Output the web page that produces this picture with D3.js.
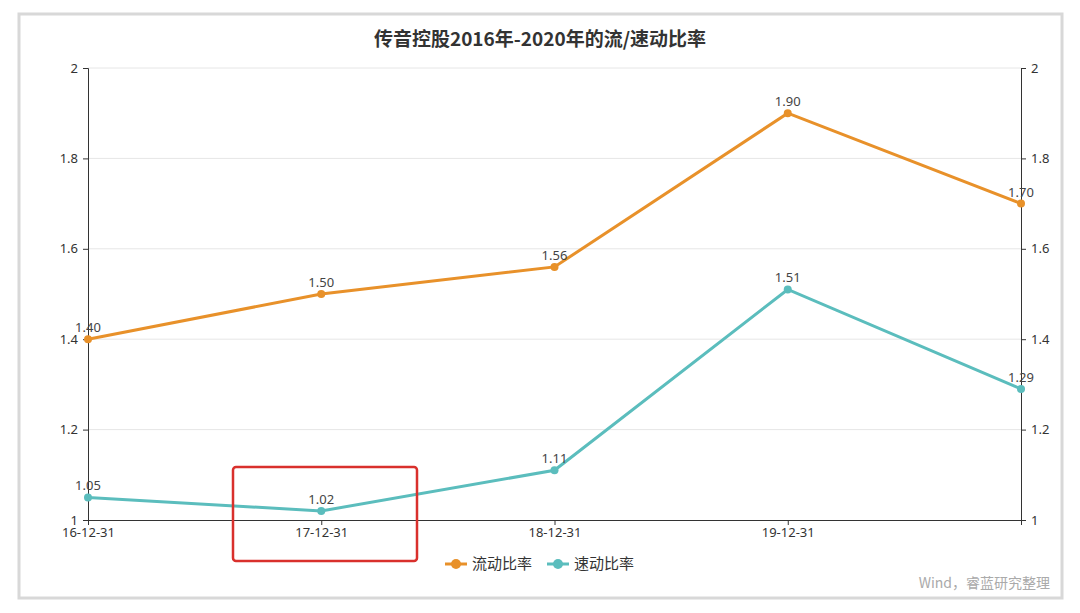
<!DOCTYPE html>
<html><head><meta charset="utf-8">
<script src="https://cdn.jsdelivr.net/npm/d3@7/dist/d3.min.js"></script>
<style>body{margin:0;background:#fff;font-family:"Noto Sans CJK SC","Noto Sans",sans-serif}</style>
</head><body><svg id="c" width="1080" height="613"></svg>
<script>
const categories=["16-12-31","17-12-31","18-12-31","19-12-31","20-12-31"];
const tickLabels=["16-12-31","17-12-31","18-12-31","19-12-31",""];
const current=[1.40,1.50,1.56,1.90,1.70];
const quick=[1.05,1.02,1.11,1.51,1.29];
const yTicks=[1,1.2,1.4,1.6,1.8,2];
const seriesNames=["流动比率","速动比率"];
const colors=["#e8912a","#5bbdbd"];

const svg=d3.select("#c");
svg.append("rect").attr("x",19).attr("y",14).attr("width",1043).attr("height",584).attr("fill","#fff").attr("stroke","#d8d8d8").attr("stroke-width",3);
const L=88,R=1021,T=68,B=520;
const x=d3.scalePoint().domain(categories).range([L,R]);
const y=d3.scaleLinear().domain([1,2]).range([B,T]);
const fmt=d=>d===1||d===2?String(d):d3.format(".1f")(d);
// grid
svg.append("g").selectAll("line").data(yTicks.slice(1)).join("line")
 .attr("x1",L).attr("x2",R).attr("y1",d=>y(d)).attr("y2",d=>y(d)).attr("stroke","#e6e6e6");
const ax=svg.append("g").attr("transform",`translate(0,${B})`).call(d3.axisBottom(x).tickFormat((d,i)=>tickLabels[i]).tickSize(5));
const ayl=svg.append("g").attr("transform",`translate(${L},0)`).call(d3.axisLeft(y).tickValues(yTicks).tickFormat(fmt).tickSize(5));
const ayr=svg.append("g").attr("transform",`translate(${R},0)`).call(d3.axisRight(y).tickValues(yTicks).tickFormat(fmt).tickSize(5));
[ax,ayl,ayr].forEach(g=>{g.selectAll("path,line").attr("stroke","#333");g.selectAll("text").attr("fill","#333").attr("font-size",13).attr("font-family","Noto Sans, sans-serif");});
ayl.selectAll("text").attr("x",-10);ayr.selectAll("text").attr("x",10);
[current,quick].forEach((s,k)=>{
 svg.append("path").datum(s).attr("fill","none").attr("stroke",colors[k]).attr("stroke-width",3)
  .attr("d",d3.line().x((d,i)=>x(categories[i])).y(d=>y(d)));
 svg.append("g").selectAll("circle").data(s).join("circle").attr("cx",(d,i)=>x(categories[i])).attr("cy",d=>y(d)).attr("r",4).attr("fill",colors[k]);
 svg.append("g").selectAll("text").data(s).join("text").attr("x",(d,i)=>x(categories[i])).attr("y",d=>y(d)-7)
  .attr("text-anchor","middle").attr("font-size",13).attr("fill","#444").attr("font-family","Noto Sans, sans-serif").text(d=>d.toFixed(2));
});
svg.append("text").attr("x",540).attr("y",46).attr("text-anchor","middle").attr("font-size",19).attr("font-weight","bold").attr("fill","#333").text("传音控股2016年-2020年的流/速动比率");
// legend
const lg=svg.append("g");
[[445,0],[547,1]].forEach(([lx,k])=>{
 lg.append("line").attr("x1",lx).attr("x2",lx+22).attr("y1",564).attr("y2",564).attr("stroke",colors[k]).attr("stroke-width",3);
 lg.append("circle").attr("cx",lx+11).attr("cy",564).attr("r",5).attr("fill",colors[k]);
 lg.append("text").attr("x",lx+27).attr("y",569).attr("font-size",15).attr("fill","#333").text(seriesNames[k]);
});
svg.append("text").attr("x",1050).attr("y",588).attr("text-anchor","end").attr("font-size",14).attr("fill","#aaa").text("Wind，睿蓝研究整理");
svg.append("rect").attr("x",233).attr("y",467).attr("width",184).attr("height",94).attr("rx",3).attr("fill","none").attr("stroke","#d9302c").attr("stroke-width",2.5);
</script></body></html>
